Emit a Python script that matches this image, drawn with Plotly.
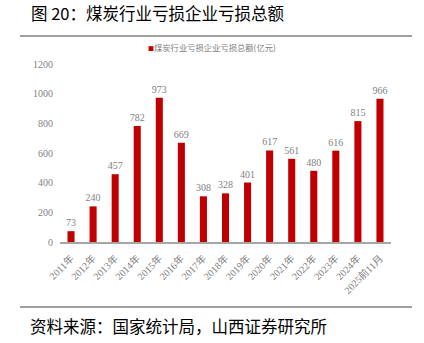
import plotly.graph_objects as go

categories = ["2011年", "2012年", "2013年", "2014年", "2015年", "2016年", "2017年", "2018年",
              "2019年", "2020年", "2021年", "2022年", "2023年", "2024年", "2025前11月"]
values = [73, 240, 457, 782, 973, 669, 308, 328, 401, 617, 561, 480, 616, 815, 966]
series_name = "煤炭行业亏损企业亏损总额(亿元)"
y_ticks = [0, 200, 400, 600, 800, 1000, 1200]

W, H = 424, 343
L, R, T, B = 60, 33, 64, 101
PW, PH = W - L - R, H - B - T


def px(x):
    return (x - L) / PW


def py(y):
    return (H - B - y) / PH


fig = go.Figure()
fig.add_trace(go.Bar(
    x=categories, y=values, name=series_name,
    marker=dict(color="#C00000", line=dict(width=0)),
    text=[str(v) for v in values], textposition="outside", constraintext="none",
    textfont=dict(family="Liberation Serif", size=10, color="#7F7F7F"),
    cliponaxis=False, showlegend=False,
))

fig.update_layout(
    width=W, height=H,
    margin=dict(l=L, r=R, t=T, b=B, pad=0),
    paper_bgcolor="white", plot_bgcolor="white",
    bargap=0.68,
    showlegend=False,
    xaxis=dict(tickangle=-45, showline=True, linecolor="#A6A6A6", linewidth=1.5,
               tickfont=dict(family="Liberation Serif, Noto Sans CJK SC", size=10, color="#7F7F7F"),
               ticks="", showgrid=False, ticklabelstandoff=5),
    yaxis=dict(range=[0, 1200], tickvals=y_ticks, showgrid=False, zeroline=False, showline=False,
               tickfont=dict(family="Liberation Serif", size=10, color="#7F7F7F"), ticks="",
               ticklabelstandoff=6),
    font=dict(family="Noto Sans CJK SC"),
    shapes=[
        dict(type="line", xref="paper", yref="paper", x0=px(20), x1=px(412),
             y0=py(36), y1=py(36), line=dict(color="#404040", width=1.2)),
        dict(type="line", xref="paper", yref="paper", x0=px(20), x1=px(412),
             y0=py(307), y1=py(307), line=dict(color="#404040", width=1.2)),
    ],
    annotations=[
        dict(text="图 20：煤炭行业亏损企业亏损总额", xref="paper", yref="paper",
             x=px(29), y=py(13), xanchor="left", yanchor="middle",
             showarrow=False, font=dict(family="Noto Sans CJK SC", size=16.5, color="#000000")),
        dict(text="<span style='color:#C00000;font-size:6px'>■</span>" + series_name,
             xref="paper", yref="paper", x=px(146), y=py(47), xanchor="left", yanchor="middle",
             showarrow=False, font=dict(family="Noto Sans CJK SC", size=8.3, color="#7F7F7F")),
        dict(text="资料来源：国家统计局，山西证券研究所", xref="paper", yref="paper",
             x=px(28), y=py(326), xanchor="left", yanchor="middle",
             showarrow=False, font=dict(family="Noto Sans CJK SC", size=16.5, color="#000000")),
    ],
)

fig.write_html("out.html")
